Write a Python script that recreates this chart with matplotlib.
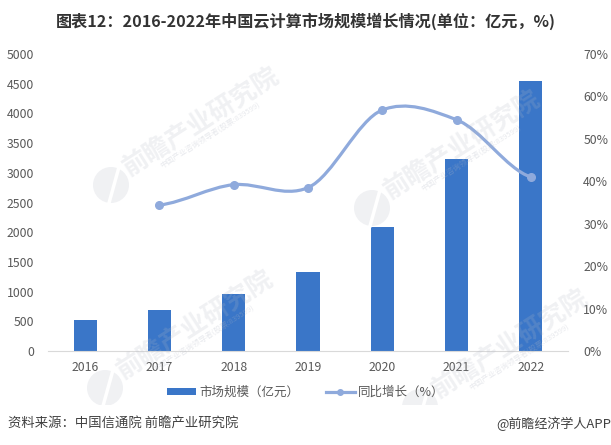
#Programa que grafica el mercado de nube en China 2016-2022
import matplotlib.pyplot as plt
import matplotlib.patches as mp
from matplotlib.path import Path
plt.rcParams['font.family'] = ['Noto Sans CJK SC', 'DejaVu Sans']
#Datos
anios = ['2016', '2017', '2018', '2019', '2020', '2021', '2022']
mercado = [515, 691, 962, 1334, 2091, 3229, 4550]
x_g = [1, 2, 3, 4, 5, 6]
growth = [34.4, 39.2, 38.5, 56.8, 54.5, 41.0]
gris = '#595959'
azul = '#3a76c8'
celeste = '#8faadc'

fig = plt.figure(figsize=(6.11,4.45), dpi=100)
ax = fig.add_axes([48/611, 1-351/445, 520/611, 297/445])
ax2 = ax.twinx()
ax.set_zorder(ax2.get_zorder()-1)
barras = ax.bar(range(7), mercado, width=0.31, color=azul, zorder=2)
ax.set_xlim(-0.5, 6.5)
ax.set_ylim(0, 5000)
ax.set_yticks(range(0, 5001, 500))
ax.set_xticks(range(7))
ax.set_xticklabels(anios)
ax.tick_params(length=0, labelcolor=gris, labelsize=8.8)
ax.tick_params(axis='x', pad=7)
ax.tick_params(axis='y', pad=10)
for s in ['top', 'left', 'right']:
    ax.spines[s].set_visible(False)
ax.spines['bottom'].set_color('#d9d9d9')
#Curva suavizada entre los puntos de crecimiento
verts = [(x_g[0], growth[0])]
codes = [Path.MOVETO]
for i in range(len(x_g)-1):
    y0 = growth[max(i-1, 0)]
    y1 = growth[i]
    y2 = growth[i+1]
    y3 = growth[min(i+2, len(growth)-1)]
    verts += [(x_g[i]+1/3, y1+(y2-y0)/6*0.85), (x_g[i+1]-1/3, y2-(y3-y1)/6*0.85), (x_g[i+1], y2)]
    codes += [Path.CURVE4, Path.CURVE4, Path.CURVE4]
ax2.add_patch(mp.PathPatch(Path(verts, codes), fill=False, edgecolor=celeste, linewidth=2.3))
linea, = ax2.plot(x_g, growth, linestyle='none', marker='o', markersize=5.5, color=celeste)
ax2.set_ylim(0, 70)
ax2.set_yticks(range(0, 71, 10))
ax2.set_yticklabels([str(v)+'%' for v in range(0, 71, 10)])
ax2.tick_params(length=0, labelcolor=gris, labelsize=8.8, pad=11)
for s in ax2.spines.values():
    s.set_visible(False)
#Marcas de agua, con el logo a la izquierda del texto
for px, py in [(111, 185), (372, 208), (105, 388), (420, 407)]:
    fig.text((px+90)/611, 1-(py-63)/445, '前瞻产业研究院', fontsize=18.5, color='#b4b9c6', rotation=32.5,
             ha='center', va='center', fontweight='bold', alpha=0.2, zorder=5)
    fig.text((px+100)/611, 1-(py-49)/445, '中国产业咨询领导者(股票:839599)', fontsize=5.5, color='#b4b9c6', rotation=32.5,
             ha='center', va='center', alpha=0.3, zorder=5)
    fig.patches.append(mp.Ellipse((px/611, 1-py/445), 36/611, 36/445, transform=fig.transFigure,
                                  facecolor='#b4b9c6', edgecolor='none', alpha=0.2, zorder=5))
    fig.lines.append(plt.Line2D([(px-2)/611, (px+8)/611], [1-(py+18)/445, 1-(py-18)/445], transform=fig.transFigure,
                                color='white', linewidth=2.5, zorder=5.1))
#Franja blanca del pie
fig.patches.append(mp.Rectangle((0, 0), 1, 1-405/445, transform=fig.transFigure, facecolor='white', zorder=6))
fig.text(306/611, 1-21/445, '图表12：2016-2022年中国云计算市场规模增长情况(单位：亿元，%)', fontsize=11.6,
         fontweight='bold', color='#333333', ha='center', va='center', zorder=7)
#Leyenda
fig.legend([barras, plt.Line2D([], [], color=celeste, linewidth=2.3, marker='o', markersize=4)],
           ['市场规模（亿元）', '同比增长（%）'], loc='center', bbox_to_anchor=(306/611, 1-392/445), ncol=2,
           frameon=False, fontsize=9, labelcolor=gris, handlelength=2.3, handleheight=0.5, handletextpad=0.3,
           columnspacing=2.1, numpoints=1).set_zorder(7)
fig.text(8/611, 1-424/445, '资料来源：中国信通院 前瞻产业研究院', fontsize=9.6, color='#404040', va='center', zorder=7)
fig.text(611/611, 1-424/445, '@前瞻经济学人APP', fontsize=9.4, color='#404040', va='center', ha='right', zorder=7)
fig.savefig('out.png', dpi=100)
